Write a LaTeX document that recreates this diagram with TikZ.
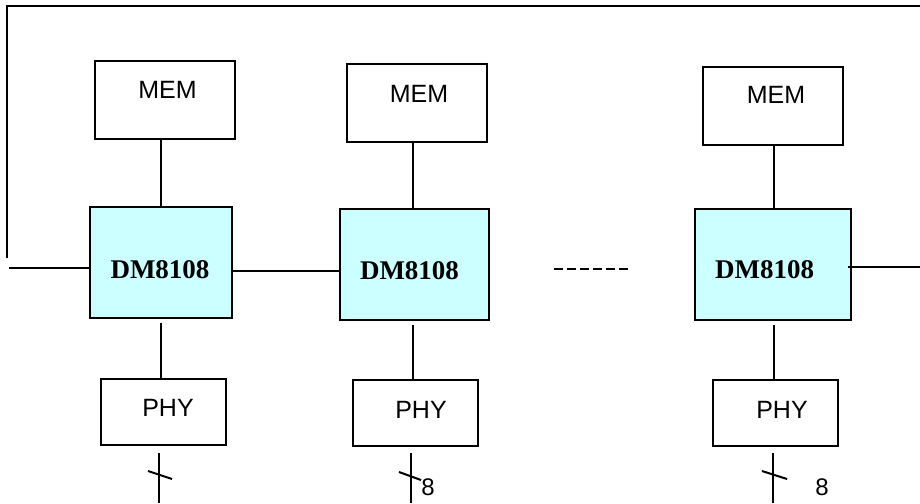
\documentclass[tikz,border=0pt]{standalone}
\usepackage{fontspec}
\setmainfont{Liberation Serif}
\setsansfont{Liberation Sans}
\definecolor{dmfill}{HTML}{CCFFFF}

\begin{document}
\begin{tikzpicture}[
  x=1pt, y=-1pt,
  line width=2pt,
  blk/.style={draw, inner sep=0pt},
  memb/.style={blk, minimum width=140pt, minimum height=78pt},
  dmb/.style={blk, fill=dmfill, minimum height=111pt},
  phyb/.style={blk, minimum width=125pt, minimum height=66pt},
  lbl/.style={anchor=base, inner sep=0pt, font=\sffamily\fontsize{25}{25}\selectfont},
  dml/.style={anchor=base, inner sep=0pt, font=\rmfamily\bfseries\fontsize{27}{27}\selectfont},
]
\useasboundingbox (0,0) rectangle (920,503);

\node [memb] (mem1) at (165,100) {};
\node [memb] (mem2) at (417,103) {};
\node [memb] (mem3) at (773,105.5) {};
\node [lbl] (mem1t) at (167.5,98) {MEM};
\node [lbl] (mem2t) at (419,102) {MEM};
\node [lbl] (mem3t) at (776,103) {MEM};

\node [dmb, minimum width=142pt] (dm1) at (161,262.5) {};
\node [dmb, minimum width=149pt] (dm2) at (414.5,264.5) {};
\node [dmb, minimum width=156pt] (dm3) at (773,264.5) {};
\node [dml] (dm1t) at (160,278) {DM8108};
\node [dml] (dm2t) at (409.5,279) {DM8108};
\node [dml] (dm3t) at (764.5,278) {DM8108};

\node [phyb] (phy1) at (163.5,412) {};
\node [phyb] (phy2) at (415,413) {};
\node [phyb] (phy3) at (775.5,413) {};
\node [lbl] (phy1t) at (168,416) {PHY};
\node [lbl] (phy2t) at (421,418) {PHY};
\node [lbl] (phy3t) at (782,418) {PHY};

\draw (dm1.north) -- (dm1.north |- mem1.south);
\draw ([xshift=-1.5pt]dm2.north) -- ([xshift=-1.5pt]dm2.north |- mem2.south);
\draw ([xshift=1pt]dm3.north) -- ([xshift=1pt]dm3.north |- mem3.south);

\draw [shorten <=4pt] (dm1.south) -- (dm1.south |- phy1.north);
\draw [shorten <=4pt] ([xshift=-1.5pt]dm2.south) -- ([xshift=-1.5pt]dm2.south |- phy2.north);
\draw [shorten <=4pt] ([xshift=1pt]dm3.south) -- ([xshift=1pt]dm3.south |- phy3.north);

\coordinate (lb) at (7,258);
\coordinate (tl) at (7,6);
\coordinate (tr) at (920,6);
\draw (lb) -- (tl) -- (tr);

\coordinate (lin) at (9,268);
\draw (lin) -- (lin -| dm1.west);
\draw ([yshift=-8pt]dm1.east) -- ([yshift=-8pt]dm1.east -| dm2.west);
\coordinate (dl) at (554,269);
\coordinate (dr) at (630,269);
\draw [dash pattern=on 9pt off 4pt] (dl) -- (dr);
\coordinate (rout) at (920,267);
\draw ([xshift=-4pt]dm3.east |- rout) -- (rout);

\coordinate (bot1) at (159,503);
\coordinate (bot2) at (411,503);
\coordinate (bot3) at (773,503);
\draw (phy1.south -| bot1) ++(0,7) -- (bot1);
\draw (phy2.south -| bot2) ++(0,6) -- (bot2);
\draw (phy3.south -| bot3) ++(0,6) -- (bot3);

\coordinate (tk1) at (159,475);
\coordinate (tk2) at (411,476);
\coordinate (tk3) at (773,475);
\draw ([shift={(-11,-4)}]tk1) -- ([shift={(13,4)}]tk1);
\draw ([shift={(-12,-4)}]tk2) -- ([shift={(10,4)}]tk2);
\draw ([shift={(-11,-4)}]tk3) -- ([shift={(14,4)}]tk3);

\node [lbl, font=\sffamily\fontsize{24}{24}\selectfont] (w2) at (428,495) {8};
\node [lbl, font=\sffamily\fontsize{24}{24}\selectfont] (w3) at (822,495) {8};

\end{tikzpicture}
\end{document}
